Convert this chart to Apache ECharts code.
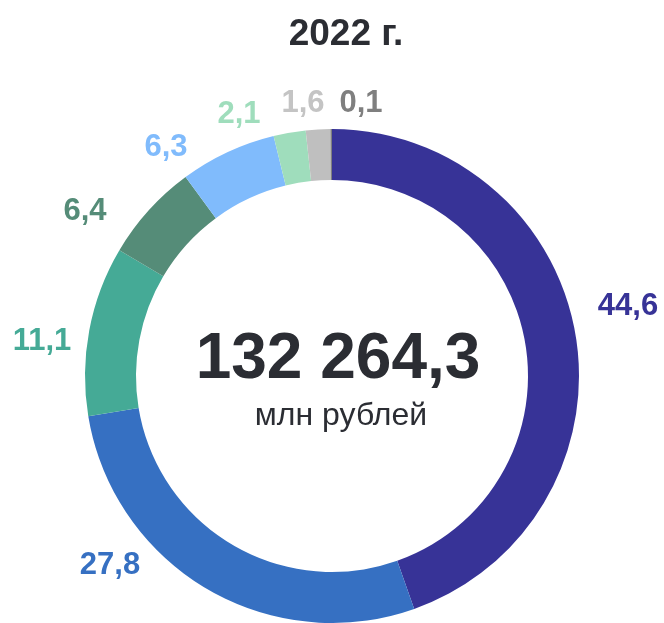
<html>
<head>
<meta charset="utf-8">
<title>2022</title>
<script src="https://cdn.jsdelivr.net/npm/echarts@6/dist/echarts.min.js"></script>
<style>
  html, body { margin: 0; padding: 0; background: #fff; }
  #main { width: 664px; height: 623px; }
</style>
</head>
<body>
<div id="main"></div>
<script type="text/javascript">

// данные диаграммы (доли, %)
var categories = ['a', 'b', 'c', 'd', 'e', 'f', 'g', 'h'];
var values = [44.6, 27.8, 11.1, 6.4, 6.3, 2.1, 1.6, 0.1];
var sliceColors = ['#373397', '#3670c2', '#45aa96', '#558c78', '#80bbfc', '#9fddbc', '#bfbfbf', '#7f7f7f'];
var labelColors = ['#373397', '#3670c2', '#45aa96', '#558c78', '#80bbfc', '#9fddbc', '#c4c4c4', '#7f7f7f'];
var title = '2022 г.';
var total = '132 264,3';
var unit = 'млн рублей';

// где стоят подписи долей (центр текста)
var labelPos = [[628, 306], [110, 565], [42, 341], [85, 211], [166, 147], [239, 114], [303, 103], [361, 103]];

var myChart = echarts.init(document.getElementById('main'));

var pieData = [];
for (var i = 0; i < values.length; i++) {
    pieData.push({
        name: categories[i],
        value: values[i],
        itemStyle: { color: sliceColors[i] },
        label: { color: labelColors[i] }
    });
}

option = {
    animation: false,
    title: [
        {
            text: title,
            left: 341, top: 11, textAlign: 'center',
            textStyle: { fontFamily: 'Liberation Sans', fontSize: 37, fontWeight: 'bold', color: '#2b2d33' }
        },
        {
            text: total,
            left: 333, top: 323, textAlign: 'center',
            textStyle: { fontFamily: 'Liberation Sans', fontSize: 64, fontWeight: 'bold', color: '#2b2d33' }
        },
        {
            text: unit,
            left: 336, top: 395, textAlign: 'center',
            textStyle: { fontFamily: 'Liberation Sans', fontSize: 32, fontWeight: 'normal', color: '#2b2d33' }
        }
    ],
    series: [{
        type: 'pie',
        center: [332, 376],
        radius: [196, 247],
        startAngle: 90,
        clockwise: true,
        avoidLabelOverlap: false,
        label: {
            show: true,
            position: 'outside',
            formatter: function (p) { return String(p.value).replace('.', ','); },
            fontFamily: 'Liberation Sans',
            fontSize: 31,
            fontWeight: 'bold'
        },
        labelLine: { show: false },
        labelLayout: function (params) {
            var p = labelPos[params.dataIndex];
            return { x: p[0], y: p[1], align: 'center', verticalAlign: 'middle' };
        },
        emphasis: { disabled: true },
        data: pieData
    }]
};
myChart.setOption(option);

</script>
</body>
</html>
